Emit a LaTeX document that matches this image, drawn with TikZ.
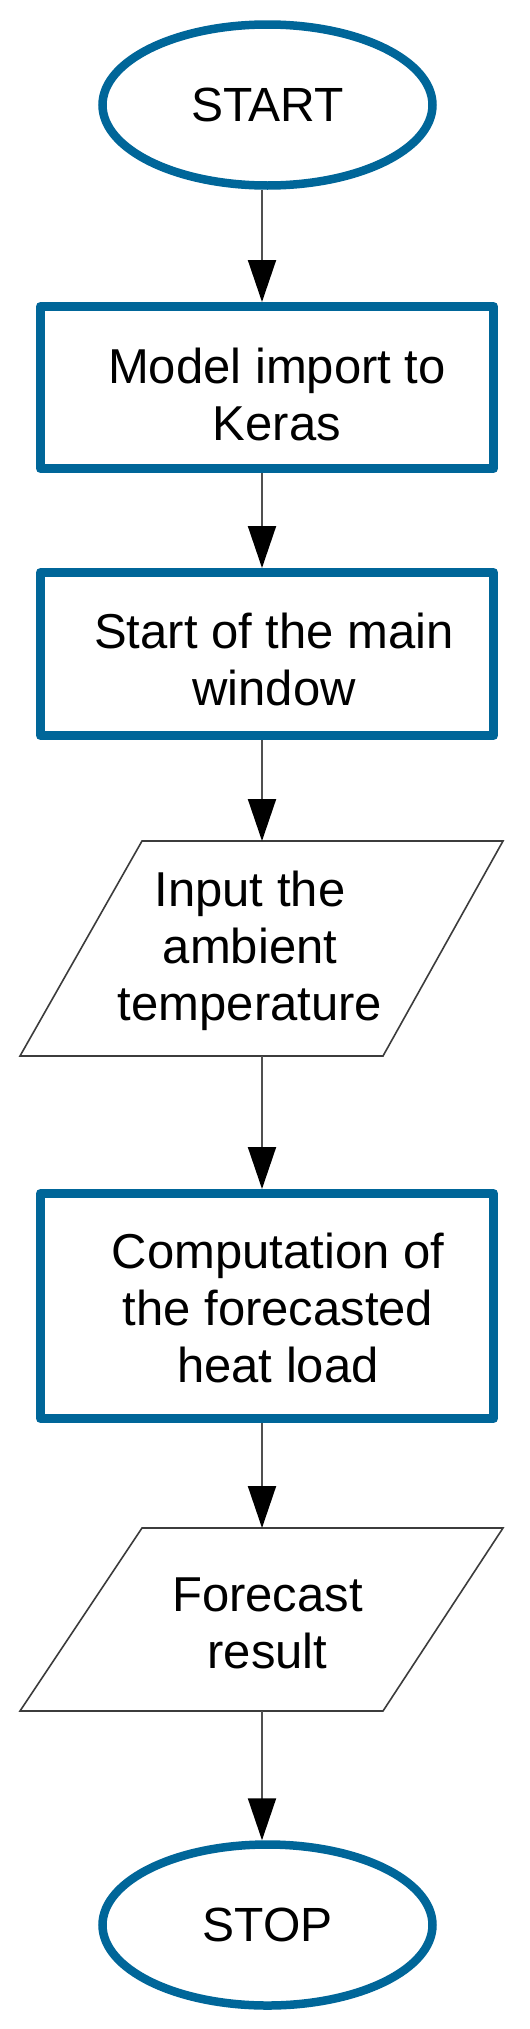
\documentclass[tikz,border=0pt]{standalone}
\usepackage{fontspec}
\setmainfont{Liberation Sans}
\usetikzlibrary{shapes.geometric,arrows.meta}
\definecolor{fcblue}{RGB}{0,102,153}
\definecolor{fcgrey}{RGB}{60,60,60}
\definecolor{arrgrey}{RGB}{80,80,80}
\begin{document}
\begin{tikzpicture}[x=1pt,y=-1pt,
  term/.style={ellipse,draw=fcblue,line width=8.5pt,fill=white,minimum width=330pt,minimum height=161pt,inner sep=0pt,font=\fontsize{48}{57}\selectfont},
  procbox/.style={rectangle,draw=fcblue,line width=9pt,line join=round,fill=white,minimum width=453pt,inner sep=0pt},
  iobox/.style={draw=fcgrey,line width=1.6pt,fill=white,line join=miter},
  txt/.style={align=center,inner sep=0pt,font=\fontsize{49}{57}\selectfont},
  arr/.style={draw=arrgrey,line width=2pt,-{Triangle[length=42pt,width=28pt,color=black]}},
]
\useasboundingbox (0,0) rectangle (530,2029);
\fill[white] (0,0) rectangle (530,2029);

% shapes
\node[term] (start) at (267.5,105) {START};
\node[procbox,minimum height=162pt] (b1) at (267,387.5) {};
\node[txt] (t1) at (277,394) {Model import to\\Keras};
\node[procbox,minimum height=163pt] (b2) at (267,654) {};
\node[txt] (t2) at (274,659) {Start of the main\\window};
\draw[iobox] (142,841) -- (503,841) -- (383,1056) -- (20,1056) -- cycle;
\coordinate (p1top) at (262,841);
\coordinate (p1bot) at (262,1056);
\node[txt] (t3) at (250,951) {Input the\\ambient\\temperature};
\node[procbox,minimum height=225pt] (b3) at (267,1306) {};
\node[txt] (t4) at (278,1308) {Computation of\\the forecasted\\heat load};
\draw[iobox] (142,1528) -- (503,1528) -- (383,1711) -- (20,1711) -- cycle;
\coordinate (p2top) at (262,1528);
\coordinate (p2bot) at (262,1711);
\node[txt] (t5) at (267.5,1623) {Forecast\\result};
\node[term] (stop) at (267.5,1925) {STOP};

% connectors
\coordinate (ax) at (262,0);
\draw[arr] (start.south -| ax) -- (b1.north -| ax);
\draw[arr] (b1.south -| ax) -- (b2.north -| ax);
\draw[arr] (b2.south -| ax) -- (p1top);
\draw[arr] (p1bot) -- (b3.north -| ax);
\draw[arr] (b3.south -| ax) -- (p2top);
\draw[arr] (p2bot) -- (stop.north -| ax);
\end{tikzpicture}
\end{document}
